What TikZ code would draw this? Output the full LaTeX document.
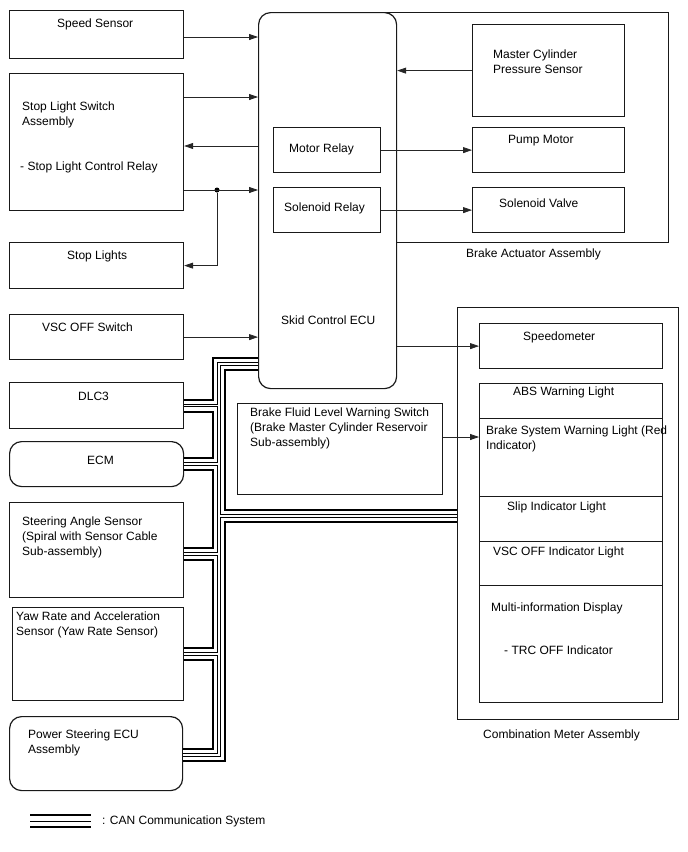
\documentclass[tikz,border=0pt]{standalone}
\usepackage{fontspec}
\setmainfont{Liberation Sans}
\usepackage{tikz}
\usetikzlibrary{arrows.meta}

\begin{document}
\begin{tikzpicture}[x=1pt, y=-1pt,
  font=\fontsize{12}{15}\selectfont,
  box/.style={draw=black!90, line width=1.2pt, fill=white, anchor=north west,
              inner sep=0pt},
  rbox/.style={box, rounded corners=12pt},
  frame/.style={draw=black!90, line width=1.2pt},
  txt/.style={anchor=north west, inner sep=0pt, align=left},
  arr/.style={-{Triangle[length=9pt,width=6pt]}, line width=0.75pt, black!85},
  dot/.style={circle, fill=black, inner sep=0pt, minimum size=5pt},
  busA/.style={line width=14pt, black},
  busB/.style={line width=10pt, white},
  busC/.style={line width=3.3pt, black},
  busD/.style={line width=1.3pt, white},
  legC/.style={line width=1pt, black}]

\useasboundingbox (0,0) rectangle (688,852);

\node[box, minimum width=174, minimum height=48] (speed) at (9,10) {};
\node[box, minimum width=174, minimum height=137] (slsw) at (9,73) {};
\node[box, minimum width=174, minimum height=46] (stopl) at (9,242) {};
\node[box, minimum width=174, minimum height=45] (vscsw) at (9,314) {};
\node[box, minimum width=174, minimum height=46] (dlc) at (9,382) {};
\node[rbox, minimum width=174, minimum height=45] (ecm) at (9,441) {};
\node[box, minimum width=174, minimum height=95] (steer) at (9,502) {};
\node[box, minimum width=171, minimum height=93] (yaw) at (12,607) {};
\node[rbox, minimum width=173, minimum height=74] (pseu) at (9,716) {};

\draw[frame] (386,12.6) -- (668.4,12.6) -- (668.4,242.4) -- (396,242.4);
\node[rbox, minimum width=138, minimum height=376] (ecu) at (258,12) {};
\node[box, minimum width=107, minimum height=45] (mrel) at (273,127) {};
\node[box, minimum width=107, minimum height=45] (srel) at (273,187) {};
\node[box, minimum width=152, minimum height=92] (mcps) at (472,24) {};
\node[box, minimum width=152, minimum height=45] (pump) at (472,127) {};
\node[box, minimum width=152, minimum height=45] (solv) at (472,187) {};

\node[box, minimum width=205, minimum height=91] (bflw) at (237,403) {};
\node[box, minimum width=221, minimum height=412] (cma) at (457,307) {};
\node[box, minimum width=183, minimum height=45] (speedo) at (479,323) {};
\node[box, minimum width=183, minimum height=35] (abs) at (479,383) {};
\node[box, minimum width=183, minimum height=78] (bswl) at (479,418) {};
\node[box, minimum width=183, minimum height=45] (slip) at (479,496) {};
\node[box, minimum width=183, minimum height=44] (vscil) at (479,541) {};
\node[box, minimum width=183, minimum height=117] (mid) at (479,585) {};

\node[txt] (speedt) at (57,19) {Speed Sensor};
\node[txt] (slswt) at (22,102) {Stop Light Switch\\Assembly};
\node[txt] (slcrt) at (20,162) {- Stop Light Control Relay};
\node[txt] (stoplt) at (67,251) {Stop Lights};
\node[txt] (vscswt) at (42,323) {VSC OFF Switch};
\node[txt] (dlct) at (78,392) {DLC3};
\node[txt] (ecmt) at (87,456) {ECM};
\node[txt] (steert) at (22,517) {Steering Angle Sensor\\(Spiral with Sensor Cable\\Sub-assembly)};
\node[txt] (yawt) at (16,612) {Yaw Rate and Acceleration\\Sensor (Yaw Rate Sensor)};
\node[txt] (pseut) at (28,730) {Power Steering ECU\\Assembly};
\node[txt] (ecut) at (281,316) {Skid Control ECU};
\node[txt] (mrelt) at (289,144) {Motor Relay};
\node[txt] (srelt) at (284,203) {Solenoid Relay};
\node[txt] (mcpst) at (493,50) {Master Cylinder\\Pressure Sensor};
\node[txt] (pumpt) at (508,135) {Pump Motor};
\node[txt] (solvt) at (499,199) {Solenoid Valve};
\node[txt] (actt) at (466,249) {Brake Actuator Assembly};
\node[txt] (bflwt) at (250,408) {Brake Fluid Level Warning Switch\\(Brake Master Cylinder Reservoir\\Sub-assembly)};
\node[txt] (speedot) at (523,332) {Speedometer};
\node[txt] (abst) at (513,387) {ABS Warning Light};
\node[txt] (bswlt) at (486,426) {Brake System Warning Light (Red\\Indicator)};
\node[txt] (slipt) at (507,502) {Slip Indicator Light};
\node[txt] (vscilt) at (493,547) {VSC OFF Indicator Light};
\node[txt] (midt) at (491,603) {Multi-information Display};
\node[txt] (trct) at (504,646) {- TRC OFF Indicator};
\node[txt] (cmat) at (483,730) {Combination Meter Assembly};

\node[dot] (jn) at (217,190) {};

\draw[arr] (speed.east |- 0,37) -- (ecu.west |- 0,37);
\draw[arr] (slsw.east |- 0,97) -- (ecu.west |- 0,97);
\draw[arr] (ecu.west |- 0,146) -- (slsw.east |- 0,146);
\draw[arr] (slsw.east |- jn) -- (ecu.west |- jn);
\draw[arr] (jn) |- (stopl.east);
\draw[arr] (vscsw.east) -- (vscsw.east -| ecu.west);
\draw[arr] (mcps.west) -- (mcps.west -| ecu.east);
\draw[arr] (mrel.east) -- (pump.west);
\draw[arr] (srel.east) -- (solv.west);
\draw[arr] (speedo.west -| ecu.east) -- (speedo.west);
\draw[arr] (bflw.east |- 0,437) -- (bswl.west |- 0,437);

\coordinate (bustop) at (219,364);
\coordinate (busbot) at (219,755);
\coordinate (busmid) at (219,516);
\foreach \lay in {busA,busB,busC,busD} {
  \draw[\lay] (ecu.west |- bustop) -- (bustop) -- (busbot) -- (pseu.east |- busbot);
  \draw[\lay] (dlc.east) -- (dlc.east -| bustop);
  \draw[\lay] (ecm.east) -- (ecm.east -| bustop);
  \draw[\lay] (steer.east |- 0,554) -- (bustop |- 0,554);
  \draw[\lay] (yaw.east) -- (yaw.east -| bustop);
  \draw[\lay] (busmid) -- (busmid -| cma.west);
}

\coordinate (lgA) at (30,821);
\coordinate (lgB) at (91,821);
\foreach \lay in {busA,busB,legC}
  \draw[\lay] (lgA) -- (lgB);
\node[txt] (lgt) at (102,816) {: CAN Communication System};
\end{tikzpicture}
\end{document}
